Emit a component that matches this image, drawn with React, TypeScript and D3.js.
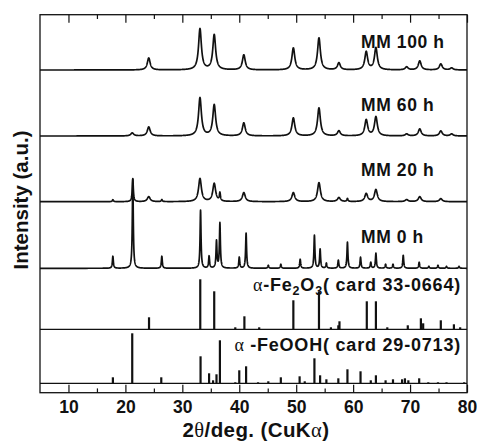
import React, { useRef, useEffect } from "react";
import * as d3 from "d3";

// peaks: [2theta (deg), intensity (a.u.)]
const mm100Peaks: [number, number][] = [
  [24.1, 12], [33.1, 41], [35.6, 35], [40.8, 15], [49.5, 22], [54.0, 32], [57.5, 7],
  [62.3, 18], [64.0, 22], [69.4, 3], [71.7, 9], [75.4, 6], [77.3, 2],
];
const mm60Peaks: [number, number][] = [
  [21.2, 3], [24.1, 9], [33.1, 38], [35.6, 31], [40.8, 13], [49.5, 18], [54.0, 28], [57.5, 5],
  [62.3, 16], [64.0, 19], [69.4, 2], [71.7, 7], [75.4, 5], [77.3, 2],
];
const mm20Peaks: [number, number][] = [
  [24.1, 5], [33.1, 23], [35.6, 18], [40.8, 9], [49.5, 9], [54.0, 19], [57.5, 4],
  [62.3, 8], [64.0, 12], [69.4, 2], [71.7, 5], [75.4, 3],
];
// residual goethite lines in the 20 h pattern (sharp)
const mm20SharpPeaks: [number, number][] = [
  [17.8, 2], [21.3, 23], [26.4, 2], [36.6, 8], [59.0, 3],
];
const mm0Peaks: [number, number][] = [
  [17.8, 12], [21.3, 89], [26.4, 12], [33.2, 58], [34.7, 12], [36.0, 27], [36.6, 45],
  [40.0, 11], [41.2, 35], [45.1, 3], [47.3, 4], [50.7, 9], [53.2, 33], [54.2, 19], [55.3, 5],
  [57.4, 8], [59.0, 26], [61.3, 11], [63.1, 6], [64.0, 15], [65.7, 4], [67.0, 4], [68.8, 13],
  [71.6, 6], [73.3, 2], [74.9, 3], [76.4, 2], [78.6, 2],
];

// reference cards (stick patterns)
const hematiteLines: [number, number][] = [
  [24.15, 12], [33.15, 50], [35.6, 38], [39.3, 2], [40.9, 13], [43.5, 2], [49.5, 29], [54.0, 38],
  [56.1, 2], [57.4, 4], [57.6, 8], [62.4, 28], [64.0, 28], [66.0, 2], [69.6, 4], [71.9, 11],
  [72.3, 6], [75.4, 9], [77.7, 5], [78.8, 2],
];
const goethiteLines: [number, number][] = [
  [17.8, 6], [21.2, 50], [26.3, 6], [33.2, 27], [34.7, 10], [35.4, 3], [36.0, 9], [36.6, 43],
  [39.3, 1], [40.0, 13], [41.2, 17], [43.3, 1], [45.1, 2], [47.3, 6], [50.6, 7], [51.5, 2],
  [53.2, 25], [54.2, 8], [55.3, 4], [57.4, 5], [59.0, 14], [61.3, 12], [63.1, 3], [64.0, 8],
  [65.7, 3], [67.0, 4], [68.6, 4], [69.1, 5], [69.7, 3], [71.6, 5], [73.2, 1], [74.9, 1],
  [76.4, 1], [79.5, 1],
];

const majorTicks = [10, 20, 30, 40, 50, 60, 70, 80];
const minorTicks = [15, 25, 35, 45, 55, 65, 75];
const sampleLabels = ["MM 100 h", "MM 60 h", "MM 20 h", "MM 0 h"];

const XrdChart = () => {
  const chartRef = useRef<SVGSVGElement>(null);

  useEffect(() => {
    document.body.style.margin = "0";
    const svg = d3.select(chartRef.current);
    const width = 477;
    const height = 444;
    const margin = { top: 14.7, right: 10, bottom: 51.3, left: 40 };
    svg.selectAll("*").remove();

    const x = d3.scaleLinear().domain([5, 80]).range([margin.left, width - margin.right]);
    const y = d3.scaleLinear().domain([0, 378]).range([height - margin.bottom, margin.top]);

    const grid = d3.range(5, 80.0001, 0.02);
    const lorentz = (peaks: [number, number][], fwhm: number, t: number) =>
      d3.sum(peaks, ([p, h]) => h / (1 + ((t - p) / (fwhm / 2)) ** 2));

    const traces = [
      { base: 322.7, calc: (t: number) => lorentz(mm100Peaks, 0.6, t) },
      { base: 256.7, calc: (t: number) => lorentz(mm60Peaks, 0.6, t) },
      { base: 191, calc: (t: number) => lorentz(mm20Peaks, 0.6, t) + lorentz(mm20SharpPeaks, 0.22, t) },
      { base: 124.4, calc: (t: number) => lorentz(mm0Peaks, 0.2, t) },
    ];

    const bold = "'Liberation Sans', Arial, Helvetica, sans-serif";
    const greek = "'Liberation Serif', 'DejaVu Serif', serif";

    traces.forEach((tr, k) => {
      const path = d3
        .line<number>()
        .x((t) => x(t))
        .y((t) => y(tr.base + tr.calc(t)));
      svg
        .append("path")
        .datum(grid)
        .attr("fill", "none")
        .attr("stroke", "#111")
        .attr("stroke-width", 1.7)
        .attr("stroke-linejoin", "round")
        .attr("d", path);

      svg
        .append("text")
        .attr("x", 361)
        .attr("y", y(tr.base) - (k === 0 ? 22 : 25.5))
        .attr("font-family", bold)
        .attr("font-weight", "bold")
        .attr("font-size", 17.5)
        .attr("letter-spacing", 0.6)
        .attr("fill", "#111")
        .text(sampleLabels[k]);
    });

    // stick patterns
    const cards = [
      { base: 63.4, lines: hematiteLines },
      { base: 9.4, lines: goethiteLines },
    ];
    cards.forEach((c) => {
      svg
        .append("line")
        .attr("x1", x(5))
        .attr("x2", x(80))
        .attr("y1", y(c.base))
        .attr("y2", y(c.base))
        .attr("stroke", "#111")
        .attr("stroke-width", 1.3);
      svg
        .append("g")
        .selectAll("line")
        .data(c.lines)
        .join("line")
        .attr("x1", (d) => x(d[0]))
        .attr("x2", (d) => x(d[0]))
        .attr("y1", y(c.base))
        .attr("y2", (d) => y(c.base + d[1]))
        .attr("stroke", "#111")
        .attr("stroke-width", 2.2);
    });

    // card labels
    const fe2o3 = svg
      .append("text")
      .attr("x", 461)
      .attr("y", y(63.4) - 38.6)
      .attr("text-anchor", "end")
      .attr("font-family", bold)
      .attr("font-weight", "bold")
      .attr("font-size", 18)
      .attr("letter-spacing", 0.8)
      .attr("fill", "#111");
    fe2o3.append("tspan").attr("font-family", greek).attr("font-weight", "normal").text("α");
    fe2o3.append("tspan").text("-Fe");
    fe2o3.append("tspan").attr("font-size", 12.5).attr("dy", 4).text("2");
    fe2o3.append("tspan").attr("dy", -4).text("O");
    fe2o3.append("tspan").attr("font-size", 12.5).attr("dy", 4).text("3");
    fe2o3.append("tspan").attr("dy", -4).text("( card 33-0664)");

    const feooh = svg
      .append("text")
      .attr("x", 461)
      .attr("y", y(9.4) - 32.6)
      .attr("text-anchor", "end")
      .attr("font-family", bold)
      .attr("font-weight", "bold")
      .attr("font-size", 18)
      .attr("letter-spacing", 0.8)
      .attr("fill", "#111");
    feooh.append("tspan").attr("font-family", greek).attr("font-weight", "normal").text("α ");
    feooh.append("tspan").text("-FeOOH( card 29-0713)");

    // frame
    svg
      .append("rect")
      .attr("x", x(5))
      .attr("y", margin.top)
      .attr("width", x(80) - x(5))
      .attr("height", height - margin.bottom - margin.top)
      .attr("fill", "none")
      .attr("stroke", "#111")
      .attr("stroke-width", 1.3);

    // axes, ticks pointing inward
    const xAxis = svg
      .append("g")
      .attr("transform", `translate(0,${height - margin.bottom})`)
      .call(d3.axisBottom(x).tickValues(majorTicks).tickSizeInner(-8).tickSizeOuter(0).tickPadding(7.5));
    svg
      .append("g")
      .attr("transform", `translate(0,${height - margin.bottom})`)
      .call(d3.axisBottom(x).tickValues(minorTicks).tickSize(-4.3).tickFormat(() => ""));
    svg
      .append("g")
      .attr("transform", `translate(0,${margin.top})`)
      .call(d3.axisTop(x).tickValues(majorTicks).tickSize(-8).tickFormat(() => ""));
    svg
      .append("g")
      .attr("transform", `translate(0,${margin.top})`)
      .call(d3.axisTop(x).tickValues(minorTicks).tickSize(-4.3).tickFormat(() => ""));
    svg.selectAll(".domain").remove();
    svg.selectAll(".tick line").attr("stroke", "#111").attr("stroke-width", 1.2);
    xAxis
      .selectAll("text")
      .attr("font-family", bold)
      .attr("font-weight", "bold")
      .attr("font-size", 17.5)
      .attr("fill", "#111");

    // axis titles
    const xTitle = svg
      .append("text")
      .attr("x", 256)
      .attr("y", 436.7)
      .attr("text-anchor", "middle")
      .attr("font-family", bold)
      .attr("font-weight", "bold")
      .attr("font-size", 20.5)
      .attr("letter-spacing", 0.4)
      .attr("fill", "#111");
    xTitle.append("tspan").text("2");
    xTitle.append("tspan").attr("font-family", greek).attr("font-weight", "normal").text("θ");
    xTitle.append("tspan").text("/deg. (CuK");
    xTitle.append("tspan").attr("font-family", greek).attr("font-weight", "normal").text("α");
    xTitle.append("tspan").text(")");

    svg
      .append("text")
      .attr("transform", "translate(28,200) rotate(-90)")
      .attr("text-anchor", "middle")
      .attr("font-family", bold)
      .attr("font-weight", "bold")
      .attr("font-size", 20.5)
      .attr("fill", "#111")
      .text("Intensity (a.u.)");
  }, []);

  return <svg ref={chartRef} width={477} height={444} style={{ display: "block" }}></svg>;
};

export default XrdChart;
